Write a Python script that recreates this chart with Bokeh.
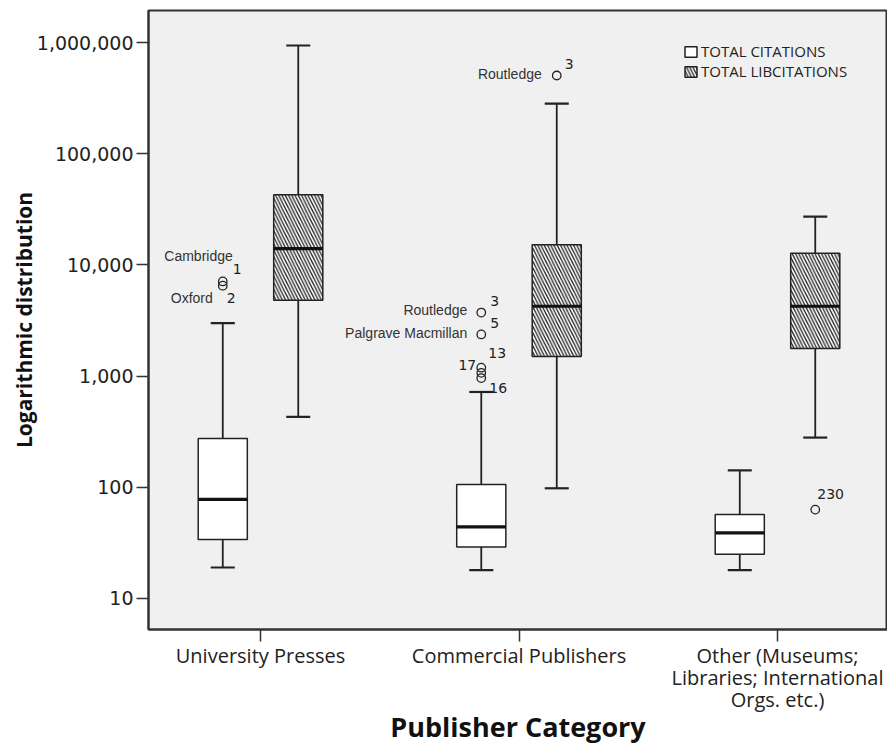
from bokeh.plotting import figure
from bokeh.models import Range1d, FixedTicker, NumeralTickFormatter, Legend, LegendItem
from bokeh.core.properties import value
from bokeh.embed import file_html
from bokeh.resources import INLINE

# ---------------- data ----------------
categories = ["University Presses", "Commercial Publishers",
              "Other (Museums;\nLibraries; International\nOrgs. etc.)"]
series_names = ["TOTAL CITATIONS", "TOTAL LIBCITATIONS"]

cit_lower = [19, 18, 18]
cit_q1 = [34, 29, 25]
cit_median = [78, 44, 39]
cit_q3 = [275, 106, 57]
cit_upper = [3000, 720, 142]

lib_lower = [430, 98, 280]
lib_q1 = [4800, 1500, 1770]
lib_median = [14000, 4250, 4250]
lib_q3 = [42700, 15200, 12700]
lib_upper = [940000, 282000, 27200]

outlier_category = [0, 0, 1, 1, 1, 1, 1, 1, 2]
outlier_series = [0, 0, 0, 0, 0, 0, 0, 1, 1]
outlier_value = [7100, 6500, 3730, 2370, 1190, 1070, 960, 505000, 63]
outlier_case = ["1", "2", "3", "5", "13", "17", "16", "3", "230"]
outlier_name = ["Cambridge", "Oxford", "Routledge", "Palgrave Macmillan", "", "", "", "Routledge", ""]

# ---------------- layout / style ----------------
SERIES_OFFSET = [-0.146, 0.146]
BOX_W = 0.19
CAP_W = 0.093
LINE = "#222222"
# pixel offsets of the annotation texts relative to their outlier point
name_dx = [10, -10, -14, -14, 0, 0, 0, -15, 0]
name_dy = [-25, 12, -3, -1, 0, 0, 0, -2, 0]
case_dx = [10, 4, 9, 9, 7, -5, 8, 8, 2]
case_dy = [-12, 12, -12, -11, -15, -8, 10, -12, -16]
case_right = [False, False, False, False, False, True, False, False, False]

p = figure(width=887, height=748,
           x_range=Range1d(0.5667, 3.4255),
           y_range=Range1d(10 ** 0.7212, 10 ** 6.288),
           y_axis_type="log",
           output_backend="svg", toolbar_location=None,
           min_border_left=148, min_border_right=0,
           min_border_top=10, min_border_bottom=119,
           background_fill_color="#f0f0f0", border_fill_color="white",
           outline_line_color="#333333", outline_line_width=2)
p.xgrid.visible = False
p.ygrid.visible = False

# x axis
p.xaxis.ticker = FixedTicker(ticks=[1, 2, 3], minor_ticks=[])
p.xaxis.major_label_overrides = {1: categories[0], 2: categories[1], 3: categories[2]}
p.xaxis.major_tick_in = 0
p.xaxis.major_tick_out = 12
p.xaxis.major_tick_line_width = 1.5
p.xaxis.major_tick_line_color = "#333333"
p.xaxis.axis_line_width = 2
p.xaxis.axis_line_color = "#333333"
p.xaxis.major_label_standoff = 0
p.xaxis.major_label_text_font = "Open Sans"
p.xaxis.major_label_text_font_size = "20px"
p.xaxis.major_label_text_line_height = 0.82
p.xaxis.major_label_text_color = "#222222"
p.xaxis.axis_label = "Publisher Category"
p.xaxis.axis_label_text_font = "Open Sans"
p.xaxis.axis_label_text_font_style = "bold"
p.xaxis.axis_label_text_font_size = "27px"
p.xaxis.axis_label_text_color = "#111111"
p.xaxis.axis_label_standoff = -8

# y axis
p.yaxis.ticker = FixedTicker(ticks=[10, 100, 1000, 10000, 100000, 1000000], minor_ticks=[])
p.yaxis.formatter = NumeralTickFormatter(format="0,0")
p.yaxis.major_tick_in = 0
p.yaxis.major_tick_out = 12
p.yaxis.major_tick_line_width = 1.5
p.yaxis.major_tick_line_color = "#333333"
p.yaxis.axis_line_width = 2
p.yaxis.axis_line_color = "#333333"
p.yaxis.major_label_standoff = 3
p.yaxis.major_label_text_font = "DejaVu Sans"
p.yaxis.major_label_text_font_size = "19px"
p.yaxis.major_label_text_color = "#222222"
p.yaxis.axis_label = "Logarithmic distribution"
p.yaxis.axis_label_text_font = "Open Sans"
p.yaxis.axis_label_text_font_style = "bold"
p.yaxis.axis_label_text_font_size = "21px"
p.yaxis.axis_label_text_color = "#111111"
p.yaxis.axis_label_standoff = -4

stats = [
    (cit_lower, cit_q1, cit_median, cit_q3, cit_upper),
    (lib_lower, lib_q1, lib_median, lib_q3, lib_upper),
]
box_renderers = []
for s, (lo, q1, md, q3, up) in enumerate(stats):
    xs = [i + 1 + SERIES_OFFSET[s] for i in range(len(categories))]
    # whiskers
    p.segment(x0=xs, y0=q3, x1=xs, y1=up, line_color=LINE, line_width=1.8)
    p.segment(x0=xs, y0=q1, x1=xs, y1=lo, line_color=LINE, line_width=1.8)
    # caps
    p.segment(x0=[x - CAP_W / 2 for x in xs], y0=up, x1=[x + CAP_W / 2 for x in xs], y1=up,
              line_color=LINE, line_width=2.2)
    p.segment(x0=[x - CAP_W / 2 for x in xs], y0=lo, x1=[x + CAP_W / 2 for x in xs], y1=lo,
              line_color=LINE, line_width=2.2)
    # boxes
    kw = dict(fill_color="white", line_color=LINE, line_width=1.5)
    if s == 1:
        kw.update(hatch_pattern="\\", hatch_color="#222222", hatch_scale=6.5, hatch_weight=1.3)
    r = p.vbar(x=xs, width=BOX_W, bottom=q1, top=q3, **kw)
    box_renderers.append(r)
    # medians
    p.segment(x0=[x - BOX_W / 2 for x in xs], y0=md, x1=[x + BOX_W / 2 for x in xs], y1=md,
              line_color="#111111", line_width=3.2)

# outliers
ox = [outlier_category[k] + 1 + SERIES_OFFSET[outlier_series[k]] for k in range(len(outlier_value))]
p.scatter(x=ox, y=outlier_value, marker="circle", size=8.5, fill_alpha=0,
          line_color=LINE, line_width=1.3)

# outlier name labels
ni = [k for k in range(len(outlier_name)) if outlier_name[k]]
p.text(x=[ox[k] for k in ni], y=[outlier_value[k] for k in ni], text=[outlier_name[k] for k in ni],
       x_offset=[name_dx[k] for k in ni], y_offset=[name_dy[k] for k in ni],
       text_align="right", text_baseline="middle",
       text_font=value("Liberation Sans"), text_font_size="14px", text_color="#333333")

# case numbers
for right in (False, True):
    ci = [k for k in range(len(outlier_case)) if case_right[k] == right]
    p.text(x=[ox[k] for k in ci], y=[outlier_value[k] for k in ci], text=[outlier_case[k] for k in ci],
           x_offset=[case_dx[k] for k in ci], y_offset=[case_dy[k] for k in ci],
           text_align="right" if right else "left", text_baseline="middle",
           text_font=value("DejaVu Sans"), text_font_size="14px", text_color="#222222")

# legend
legend = Legend(items=[LegendItem(label=series_names[0], renderers=[box_renderers[0]]),
                       LegendItem(label=series_names[1], renderers=[box_renderers[1]])],
                location=(535, 548), orientation="vertical",
                glyph_width=15, glyph_height=13, label_height=13, label_standoff=3,
                spacing=-5, padding=0, margin=0,
                border_line_alpha=0, background_fill_alpha=0,
                label_text_font="Open Sans", label_text_font_size="15px",
                label_text_color="#222222")
p.add_layout(legend)

open("out.html", "w").write(file_html(p, INLINE))
